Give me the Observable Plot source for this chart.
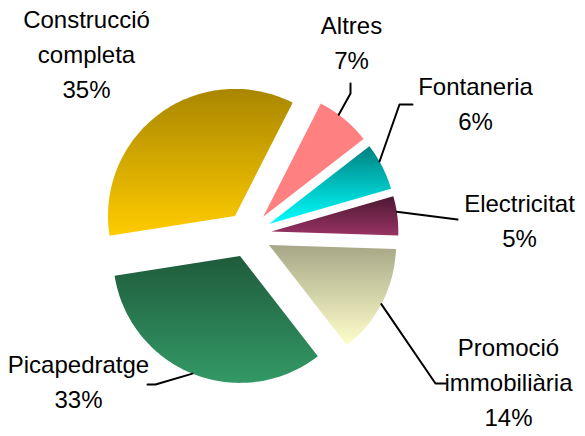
<!DOCTYPE html>
<html><head><meta charset="utf-8">
<script src="https://cdn.jsdelivr.net/npm/d3@7"></script>
<script src="https://cdn.jsdelivr.net/npm/@observablehq/plot@0.6"></script>
<style>html,body{margin:0;padding:0;background:#fff}</style>
</head><body><div id="chart"></div>
<script>
// ---- data ----
const categories = ["Construcció\ncompleta", "Altres", "Fontaneria", "Electricitat", "Promoció\nimmobiliària", "Picapedratge"];
const values = [35, 7, 6, 5, 14, 33];
const gradTop = ["#a98600", "#ff8080", "#008080", "#4b1830", "#a7a787", "#1f5b3c"];
const gradBottom = ["#ffcc00", "#ff8080", "#00ffff", "#993366", "#ffffcc", "#339966"];

// ---- layout ----
const W = 585, H = 436;
const cx = 248, cy = 234, R = 127, explode = 23, startDeg = -99;
const labelAnchor = [[86, 97], [351, 68], [475, 129], [519, 246], [508, 425], [78, 407]]; // x, last baseline
const leaderAngle = [null, 36.5, 60.5, 81, 117.8, 202];
const leaderBends = [null, [[350, 93], [350, 83]], [[399, 104], [412, 104]], [[457, 219]], [[435, 383], [445, 383]], [[155, 384], [147, 384]]];

const rad = Math.PI / 180;
const arcs = d3.pie().sort(null).startAngle(startDeg * rad).endAngle(startDeg * rad + 2 * Math.PI)(values);

function apex(a) {
  const mid = (a.startAngle + a.endAngle) / 2;
  return [cx + explode * Math.sin(mid), cy - explode * Math.cos(mid)];
}

const slices = arcs.map((a, i) => {
  const [ax, ay] = apex(a);
  const pts = [{x: ax, y: ay}];
  const n = 90;
  for (let k = 0; k <= n; ++k) {
    const t = a.startAngle + (a.endAngle - a.startAngle) * k / n;
    pts.push({x: ax + R * Math.sin(t), y: ay - R * Math.cos(t)});
  }
  pts.push({x: ax, y: ay});
  return pts;
});

const leaderData = [];
arcs.forEach((a, i) => {
  if (leaderAngle[i] == null) return;
  const [ax, ay] = apex(a);
  const t = leaderAngle[i] * rad;
  leaderData.push({k: i, x: ax + R * Math.sin(t), y: ay - R * Math.cos(t)});
  leaderBends[i].forEach(([x, y]) => leaderData.push({k: i, x, y}));
});

const labels = categories.map((c, i) => ({
  text: `${c}\n${values[i]}%`, x: labelAnchor[i][0], y: labelAnchor[i][1]
}));

function defs() {
  const d = d3.create("svg:defs");
  categories.forEach((c, i) => {
    const g = d.append("linearGradient").attr("id", "g" + i)
      .attr("x1", 0).attr("y1", 0).attr("x2", 0).attr("y2", 1);
    g.append("stop").attr("offset", "0%").attr("stop-color", gradTop[i]);
    g.append("stop").attr("offset", "100%").attr("stop-color", gradBottom[i]);
  });
  return d.node();
}

const chart = Plot.plot({
  width: W, height: H,
  margin: 0,
  x: {domain: [0, W], axis: null},
  y: {domain: [H, 0], range: [H, 0], axis: null},
  style: {background: "#fff", fontFamily: "Liberation Sans, Arial, sans-serif"},
  marks: [
    defs,
    ...slices.map((pts, i) => Plot.line(pts, {x: "x", y: "y", fill: `url(#g${i})`, stroke: "none"})),
    Plot.line(leaderData, {x: "x", y: "y", z: "k", stroke: "#000", strokeWidth: 2}),
    Plot.text(labels, {x: "x", y: "y", text: "text", lineAnchor: "bottom", lineHeight: 1.44,
      fontSize: 24, fill: "#000", textAnchor: "middle", fontFamily: "Liberation Sans, Arial, sans-serif"})
  ]
});
document.getElementById("chart").appendChild(chart);
</script>
</body></html>
